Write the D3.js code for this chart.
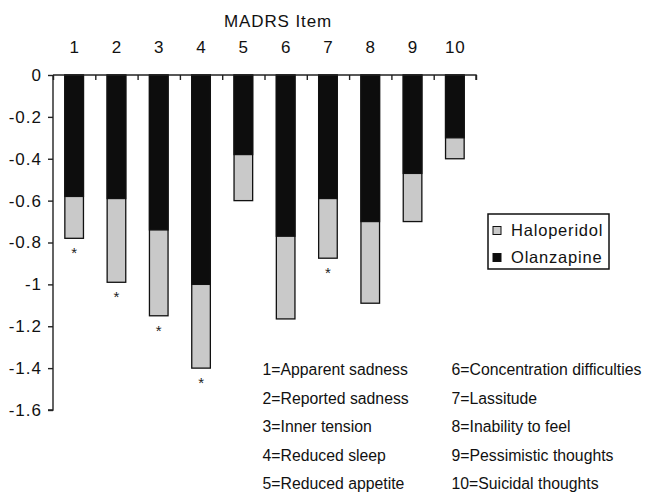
<!DOCTYPE html>
<html><head><meta charset="utf-8">
<script src="https://cdn.jsdelivr.net/npm/d3@7"></script>
<style>
body{margin:0;background:#fff;}
svg{display:block;font-family:"Liberation Sans",Arial,Helvetica,sans-serif;}
</style></head>
<body>
<svg id="c" width="645" height="492"></svg>
<script>
const items = ["1","2","3","4","5","6","7","8","9","10"];
const olanzapine = [-0.58,-0.59,-0.74,-1.00,-0.38,-0.77,-0.59,-0.70,-0.47,-0.30];
const haloperidol = [-0.78,-0.99,-1.15,-1.40,-0.60,-1.165,-0.875,-1.09,-0.70,-0.40];
const significant = [true,true,true,true,false,false,true,false,false,false];
const yTicks = [0,-0.2,-0.4,-0.6,-0.8,-1,-1.2,-1.4,-1.6];
const itemNames = ["1=Apparent sadness","2=Reported sadness","3=Inner tension","4=Reduced sleep","5=Reduced appetite",
  "6=Concentration difficulties","7=Lassitude","8=Inability to feel","9=Pessimistic thoughts","10=Suicidal thoughts"];
const seriesNames = ["Haloperidol","Olanzapine"];

const svg = d3.select("#c");
const L = 53, R = 476, T = 75, B = 410;
const x = d3.scaleBand().domain(items).range([L,R]).padding(0);
const xl = d3.scaleLinear().domain([0,10]).range([L,R]);
const y = d3.scaleLinear().domain([0,-1.6]).range([T,B]);
const bw = x.bandwidth()*0.44;
const GRAY = "#c9c9c9", BLACK = "#0d0d0d";

// bars: gray (haloperidol) behind, black (olanzapine) in front
const g = svg.append("g");
g.selectAll("rect.h").data(items).join("rect")
  .attr("x", d => x(d)+x.bandwidth()/2-bw/2)
  .attr("y", y(0))
  .attr("width", bw)
  .attr("height", (d,i) => y(haloperidol[i]) - y(0))
  .attr("fill", GRAY).attr("stroke", "#111").attr("stroke-width", 1.3);
g.selectAll("rect.o").data(items).join("rect")
  .attr("x", d => x(d)+x.bandwidth()/2-bw/2)
  .attr("y", y(0))
  .attr("width", bw)
  .attr("height", (d,i) => y(olanzapine[i]) - y(0))
  .attr("fill", BLACK).attr("stroke", "#111").attr("stroke-width", 1.3);

// asterisks
g.selectAll("text.star").data(items.filter((d,i)=>significant[i])).join("text")
  .attr("x", d => x(d)+x.bandwidth()/2)
  .attr("y", d => y(haloperidol[items.indexOf(d)]) + 20)
  .attr("text-anchor","middle").attr("font-size",15).attr("fill","#222").text("*");

// y axis
const ya = svg.append("g").attr("transform",`translate(${L},0)`)
  .call(d3.axisLeft(y).tickValues(yTicks).tickSize(5).tickPadding(6)
    .tickFormat(d => d===0 ? "0" : String(+d.toFixed(1))));
ya.selectAll("text").attr("font-size",17).attr("letter-spacing","1px").attr("fill","#111").attr("font-family",null);
ya.selectAll("path,line").attr("stroke","#222").attr("stroke-width",1.4);
ya.select(".domain").attr("d", `M-5,${B}H0V${T}`);

// x axis on top: boundary ticks pointing down
const xt = svg.append("g").attr("transform",`translate(0,${T})`)
  .call(d3.axisTop(xl).ticks(10).tickSize(-5).tickFormat(""));
xt.selectAll("path,line").attr("stroke","#222").attr("stroke-width",1.4);
xt.select(".domain").attr("d", `M${L},0H${R}V5`);
// category labels
const xa = svg.append("g").attr("transform",`translate(0,${T})`)
  .call(d3.axisTop(x).tickSize(0).tickPadding(22));
xa.select(".domain").remove();
xa.selectAll("text").attr("font-size",17).attr("letter-spacing","1px").attr("dx","0.5px").attr("fill","#111").attr("font-family",null);

svg.append("text").attr("x",278).attr("y",27).attr("text-anchor","middle")
  .attr("font-size",17).attr("letter-spacing","0.9px").attr("fill","#111").text("MADRS Item");

// legend
const lg = svg.append("g");
lg.append("rect").attr("x",488).attr("y",214).attr("width",121).attr("height",55)
  .attr("fill","#fff").attr("stroke","#111").attr("stroke-width",1.5);
const lcols = [GRAY, BLACK];
seriesNames.forEach((s,i) => {
  lg.append("rect").attr("x",493).attr("y",226.5+i*27).attr("width",8).attr("height",8)
    .attr("fill",lcols[i]).attr("stroke","#111").attr("stroke-width",1);
  lg.append("text").attr("x",511).attr("y",236+i*26.5).attr("font-size",16.5)
    .attr("letter-spacing","0.8px").attr("fill","#111").text(s);
});

// item descriptions
const desc = svg.append("g");
itemNames.forEach((t,i) => {
  const col = Math.floor(i/5), row = i%5;
  desc.append("text").attr("x", col===0 ? 262.5 : 451.5).attr("y", 375 + row*28.6)
    .attr("font-size",15.8).attr("fill","#111").text(t);
});
</script>
</body></html>
